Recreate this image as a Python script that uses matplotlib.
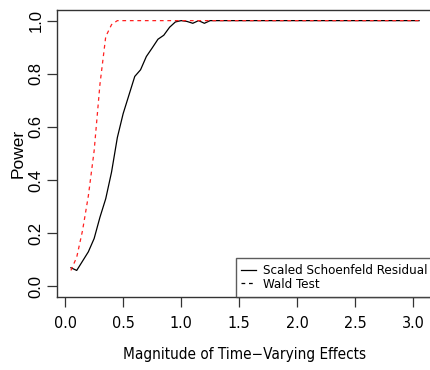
import numpy as np
import matplotlib.pyplot as plt
import matplotlib.font_manager as fm

# Power curves
x_ssr = [0.05, 0.10, 0.15, 0.20, 0.25, 0.30, 0.35, 0.40, 0.45, 0.50, 0.55, 0.60, 0.65,
         0.70, 0.75, 0.80, 0.85, 0.90, 0.95, 1.00, 1.05, 1.10, 1.15, 1.20, 1.25, 3.05]
y_ssr = [0.07, 0.06, 0.095, 0.13, 0.18, 0.26, 0.33, 0.43, 0.56, 0.65, 0.72, 0.79, 0.815,
         0.865, 0.897, 0.93, 0.945, 0.975, 0.995, 1.0, 0.997, 0.99, 1.0, 0.99, 1.0, 1.0]

x_wald = [0.05, 0.10, 0.15, 0.20, 0.25, 0.30, 0.35, 0.40, 0.45, 3.05]
y_wald = [0.06, 0.11, 0.21, 0.34, 0.51, 0.76, 0.94, 0.985, 1.0, 1.0]

xticks = [0.0, 0.5, 1.0, 1.5, 2.0, 2.5, 3.0]
yticks = [0.0, 0.2, 0.4, 0.6, 0.8, 1.0]


def stretch_num(f):
    s = f.stretch
    if isinstance(s, str):
        s = fm.stretch_dict.get(s, 500)
    if 'Narrow' in f.name:
        s = min(s, 300)
    return s


# horizontal text in the original is squeezed sideways -> narrow face for it
cands = [f for f in fm.fontManager.ttflist
         if f.style == 'normal' and f.weight in (400, 'normal', 'regular')
         and stretch_num(f) < 500 and 'Mono' not in f.name and 'Serif' not in f.name]
cands.sort(key=stretch_num)
if cands:
    narrow = fm.FontProperties(family=[cands[0].name, 'DejaVu Sans'], stretch=cands[0].stretch)
else:
    narrow = fm.FontProperties(family=['Liberation Sans', 'DejaVu Sans'])
plt.rcParams['font.family'] = ['Liberation Sans', 'DejaVu Sans']

fig = plt.figure(figsize=(4.3, 3.7), dpi=100)
ax = fig.add_axes([57 / 430, 73 / 370, 376 / 430, 287 / 370])

ax.plot(x_ssr, y_ssr, color='black', lw=0.9)
ax.plot(x_wald, y_wald, color='#ff2020', lw=0.9, linestyle=(0, (3, 3)))

ax.set_xlim(-0.07, 3.17)
ax.set_ylim(-0.04, 1.04)
ax.set_xticks(xticks)
ax.set_yticks(yticks)
ax.set_xticklabels([f'{t:.1f}' for t in xticks], fontproperties=narrow, fontsize=11.5)
ax.set_yticklabels([f'{t:.1f}' for t in yticks], rotation=90, va='center', fontsize=12)
ax.tick_params(axis='both', length=7, width=0.9, color='#333333')
ax.tick_params(axis='x', pad=7)
ax.tick_params(axis='y', pad=2.5)

for s in ax.spines.values():
    s.set_color('#333333')
    s.set_linewidth(1.0)

ax.set_xlabel('Magnitude of Time\u2212Varying Effects', fontproperties=narrow, fontsize=11,
              va='center')
ax.xaxis.set_label_coords(0.5, -0.202)
ax.set_ylabel('Power', fontsize=12.5, va='center')
ax.yaxis.set_label_coords(-0.104, 0.5)

# legend uses black for both entries, like the original
h1, = ax.plot([], [], color='black', lw=0.9)
h2, = ax.plot([], [], color='black', lw=0.9, linestyle=(0, (3, 3)))
lp = narrow.copy()
lp.set_size(9.5)
leg = ax.legend([h1, h2], ['Scaled Schoenfeld Residual', 'Wald Test'], loc='lower right',
                prop=lp, frameon=True, fancybox=False, borderaxespad=0,
                handlelength=1.1, handletextpad=0.5, labelspacing=0.05, borderpad=0.45)
leg.get_frame().set_edgecolor('#333333')
leg.get_frame().set_linewidth(1.0)

fig.savefig('out.png', dpi=100)
